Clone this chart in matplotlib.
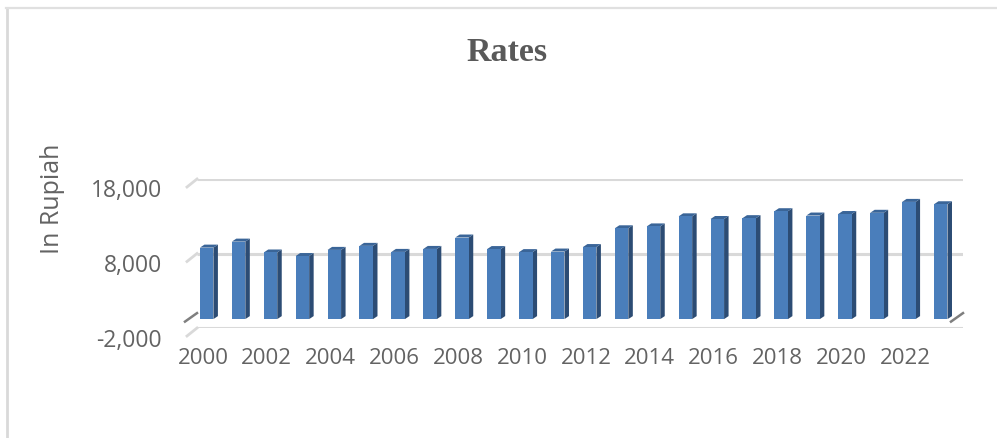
import matplotlib
matplotlib.use("Agg")
import matplotlib.pyplot as plt
from matplotlib.patches import Polygon, Rectangle
from matplotlib.lines import Line2D

years = [2000, 2001, 2002, 2003, 2004, 2005, 2006, 2007, 2008, 2009, 2010, 2011,
         2012, 2013, 2014, 2015, 2016, 2017, 2018, 2019, 2020, 2021, 2022, 2023]
rates = [9595, 10400, 8940, 8465, 9290, 9830, 9020, 9419, 10950, 9400, 8991, 9068,
         9670, 12189, 12440, 13795, 13436, 13548, 14481, 13901, 14105, 14269, 15731, 15416]
y_ticks = [-2000, 8000, 18000]
title = "Rates"
y_label = "In Rupiah"

W, H = 997, 439
L, R, T, B = 197, 963, 180, 329
PT = 0.72
fig = plt.figure(figsize=(W / 100, H / 100), dpi=100, facecolor="white")
ax = fig.add_axes([L / W, 1 - B / H, (R - L) / W, (B - T) / H])
ax.set_xlim(-0.5, len(years) - 0.5)
ax.set_ylim(y_ticks[0], y_ticks[-1])
ax.axis("off")

px_x = (len(years)) / (R - L)                 # category units per pixel
px_y = (y_ticks[-1] - y_ticks[0]) / (B - T)   # value units per pixel

FACE, TOP, SIDE = "#4a7ebb", "#3a6598", "#2c4c74"
GRID, FLOOR = "#d9d9d9", "#7f7f7f"
TXT = "#636363"
FONT = "Open Sans"

# side walls and grid lines
for v in y_ticks:
    ax.plot([-0.5, len(years) - 0.5], [v, v], color=GRID, lw=2.2, zorder=1, solid_capstyle="butt")
    ax.add_line(Line2D([-0.5, -0.5 - 10 * px_x], [v, v - 8 * px_y], color=GRID, lw=2.0,
                       zorder=1, clip_on=False))
# floor edges at zero
for x0 in (-0.5, len(years) - 0.5):
    ax.add_line(Line2D([x0, x0 - 12 * px_x], [0, -8.5 * px_y], color=FLOOR, lw=1.8,
                       zorder=1, clip_on=False))

# bars: front plane sits in front of the back wall by a fixed pixel offset
bw = 13.5 * px_x
off_x, off_y = -6.3 * px_x, -6 * px_y
dx, dy = 4.5 * px_x, 3 * px_y
for i, v in enumerate(rates):
    x0 = i + off_x - bw / 2
    x1 = x0 + bw
    y0, y1 = off_y, v + off_y
    ax.add_patch(Polygon([(x1, y0), (x1 + dx, y0 + dy), (x1 + dx, y1 + dy), (x1, y1)],
                         closed=True, fc=SIDE, ec="none", zorder=3, clip_on=False))
    ax.add_patch(Polygon([(x0, y1), (x1, y1), (x1 + dx, y1 + dy), (x0 + dx, y1 + dy)],
                         closed=True, fc=TOP, ec="none", zorder=3, clip_on=False))
    ax.add_patch(Rectangle((x0, y0), bw, v, fc=FACE, ec="none", zorder=4, clip_on=False))

# tick labels, offset in pixels from the axis scale
for v in y_ticks:
    ax.annotate(f"{v:,}", xy=(-0.5, v), xytext=((162 - L) * PT, -11.5 * PT), textcoords="offset points",
                ha="right", va="center", fontsize=16.5, color=TXT, family=FONT,
                annotation_clip=False)
for i, yr in enumerate(years):
    if i % 2 == 0:
        ax.annotate(str(yr), xy=(i, y_ticks[0]), xytext=(-10 * PT, -30 * PT),
                    textcoords="offset points", ha="center", va="center", fontsize=16,
                    color=TXT, family=FONT, annotation_clip=False)

fig.text(507 / W, 1 - 52.5 / H, title, ha="center", va="center", fontsize=24.5,
         fontweight="bold", color="#595959", family="Liberation Serif")
fig.text(52.5 / W, 1 - 199 / H, y_label, rotation=90, ha="center", va="center", fontsize=18,
         color=TXT, family=FONT)

# chart frame: left and top edges only
fig.add_artist(Line2D([7 / W, 7 / W], [0, 1 - 9 / H], color="#d9d9d9", lw=2.0))
fig.add_artist(Line2D([6 / W, 1], [1 - 8.5 / H, 1 - 8.5 / H], color="#e0e0e0", lw=1.6))
fig.savefig("out.png", dpi=100, facecolor="white")
